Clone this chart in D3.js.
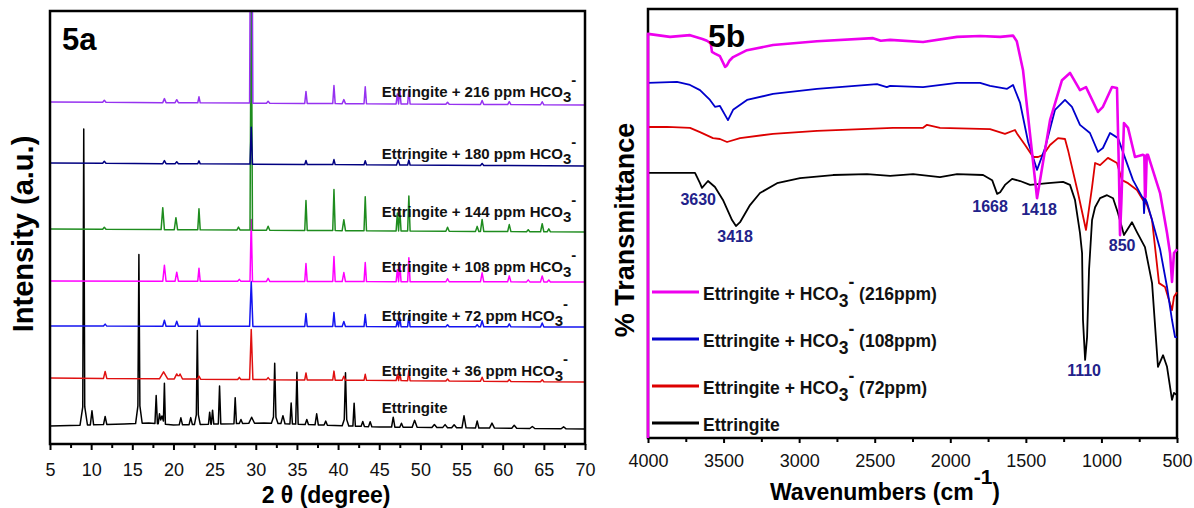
<!DOCTYPE html>
<html>
<head>
<meta charset="utf-8">
<script src="https://cdn.jsdelivr.net/npm/d3@7"></script>
<style>
  body { margin: 0; background: #fff; }
  svg { display: block; font-family: "Liberation Sans", Arial, Helvetica, sans-serif; }
</style>
</head>
<body>
<svg id="fig" width="1194" height="508"></svg>
<script>
// ================= 5a : XRD =================
// peaks: [2theta, height (a.u.), half width (deg)]
const xrdNames = ["Ettringite", "36 ppm", "72 ppm", "108 ppm", "144 ppm", "180 ppm", "216 ppm"];
const xrdColors = ["#000000", "#e01010", "#1414f0", "#ff00ff", "#1e8c1e", "#000080", "#9632f0"];

const baseEtt = [[5, 18], [14, 20], [17, 21], [20, 19], [31, 21], [45, 17], [70, 15]];
const base36 = [[5, 66], [70, 62]];
const base72 = [[5, 118], [70, 117]];
const base108 = [[5, 163], [70, 162]];
const base144 = [[5, 215], [70, 212]];
const base180 = [[5, 281], [70, 278]];
const base216 = [[5, 342], [70, 339]];

const peaksEtt = [
  [9.1, 271, 0.12], [9.1, 25, 0.45], [10.1, 14, 0.2], [11.7, 8, 0.2],
  [15.8, 144, 0.12], [15.8, 25, 0.4], [17.9, 28, 0.15], [18.3, 10, 0.15],
  [18.6, 8, 0.3], [18.9, 41, 0.12], [20.9, 7, 0.2], [22.1, 7, 0.2],
  [22.9, 79, 0.12], [22.9, 15, 0.35], [24.4, 12, 0.15], [24.75, 14, 0.15],
  [25.6, 38, 0.15], [27.5, 26, 0.15], [28.2, 4, 0.2], [29.5, 6, 0.35],
  [32.3, 50, 0.15], [32.3, 10, 0.4], [33.3, 8, 0.25], [34.3, 21, 0.15],
  [35.0, 52, 0.15], [36.2, 5, 0.2], [37.4, 11, 0.2], [38.5, 4, 0.2],
  [40.9, 43, 0.15], [40.9, 10, 0.4], [41.95, 23, 0.15], [43.0, 5, 0.2],
  [43.9, 5, 0.2], [46.7, 10, 0.2], [47.7, 4, 0.2], [49.3, 7, 0.3],
  [51.7, 3, 0.3], [53.0, 3, 0.3], [54.1, 3, 0.3], [55.3, 12, 0.25],
  [56.9, 7, 0.2], [58.7, 5, 0.3], [61.4, 3, 0.3], [63.6, 2, 0.3], [67.4, 2, 0.3]
];
const peaks36 = [
  [11.7, 7, 0.2], [18.8, 7, 0.5], [20.4, 5, 0.3], [20.8, 5, 0.3], [23.1, 3, 0.2],
  [28.0, 2, 0.2], [29.45, 50, 0.2], [31.5, 2, 0.2], [36.1, 7, 0.15], [39.5, 9, 0.15],
  [40.7, 4, 0.2], [43.3, 6, 0.15], [47.2, 6, 0.15], [47.5, 8, 0.15], [48.6, 10, 0.15],
  [53.3, 2, 0.2], [57.5, 4, 0.2], [60.8, 2, 0.2], [64.8, 2, 0.2]
];
const peaks72 = [
  [11.7, 2, 0.2], [18.9, 6, 0.2], [20.4, 5, 0.2], [23.1, 8, 0.15], [29.45, 45, 0.2],
  [36.1, 13, 0.15], [39.5, 14, 0.15], [40.7, 5, 0.2], [43.3, 12, 0.15], [47.2, 6, 0.15],
  [47.5, 9, 0.15], [48.6, 11, 0.15], [53.3, 2, 0.2], [56.9, 2, 0.2], [57.5, 6, 0.2],
  [60.8, 3, 0.2], [64.8, 4, 0.2]
];
const peaks108 = [
  [18.9, 16, 0.2], [20.4, 9, 0.2], [23.1, 13, 0.15], [28.0, 2, 0.2], [29.45, 62, 0.15],
  [31.5, 3, 0.2], [36.1, 18, 0.15], [39.5, 25, 0.15], [40.7, 9, 0.2], [43.3, 19, 0.15],
  [47.2, 12, 0.15], [47.5, 18, 0.15], [48.6, 24, 0.15], [53.3, 3, 0.2], [57.5, 9, 0.2],
  [60.8, 6, 0.2], [63.1, 2, 0.2], [64.8, 6, 0.2], [65.6, 2, 0.2]
];
const peaks144 = [
  [11.6, 2, 0.2], [18.7, 22, 0.2], [20.3, 12, 0.2], [23.1, 21, 0.15], [27.9, 3, 0.2],
  [29.45, 260, 0.15], [31.5, 4, 0.2], [36.1, 30, 0.15], [39.5, 41, 0.15], [40.7, 11, 0.2],
  [43.3, 34, 0.15], [47.2, 18, 0.15], [47.5, 22, 0.15], [48.6, 35, 0.15], [53.3, 4, 0.2],
  [56.9, 5, 0.2], [57.5, 12, 0.2], [60.8, 7, 0.2], [63.1, 2, 0.2], [64.8, 8, 0.2], [65.6, 3, 0.2]
];
const peaks180 = [
  [11.6, 2, 0.2], [18.9, 3, 0.2], [20.4, 2, 0.2], [23.1, 3, 0.15], [29.45, 37, 0.15],
  [36.1, 4, 0.15], [39.5, 5, 0.15], [43.3, 4, 0.15], [47.3, 5, 0.2], [48.6, 5, 0.15], [57.5, 2, 0.2]
];
const peaks216 = [
  [11.6, 2, 0.2], [18.9, 4, 0.2], [20.4, 3, 0.2], [23.1, 6, 0.15], [29.45, 340, 0.2],
  [31.5, 2, 0.2], [36.1, 12, 0.15], [39.5, 18, 0.15], [40.7, 4, 0.2], [43.3, 17, 0.15],
  [47.2, 10, 0.15], [47.5, 14, 0.15], [48.6, 14, 0.15], [53.3, 2, 0.2], [57.5, 4, 0.2],
  [60.8, 3, 0.2], [64.8, 3, 0.2]
];
const xrdBases = [baseEtt, base36, base72, base108, base144, base180, base216];
const xrdPeaks = [peaksEtt, peaks36, peaks72, peaks108, peaks144, peaks180, peaks216];
const xrdTicks = d3.range(5, 71, 5);

// ================= 5b : FTIR =================
// [wavenumber, transmittance (a.u., 0-100)]
const ftir216 = [
  [4000, 0], [4000, 94.2], [3854, 93.5], [3722, 93.9], [3640, 93.0], [3610, 92.6], [3585, 92.0],
  [3577, 90.0], [3557, 89.6], [3524, 89.0], [3490, 86.5], [3477, 86.9], [3460, 88.0], [3437, 88.8],
  [3345, 90.4], [3173, 91.6], [2882, 92.5], [2511, 93.2], [2460, 92.6], [2398, 92.8], [2180, 92.3],
  [1955, 93.5], [1803, 93.7], [1670, 93.5], [1585, 93.8], [1560, 92.5], [1519, 85.8], [1426, 55.9],
  [1340, 74.1], [1261, 83.4], [1208, 85.1], [1142, 81.1], [1102, 81.8], [1023, 76.0], [990, 77.2],
  [930, 81.8], [897, 81.6], [884, 62], [877, 47.3], [868, 55], [851, 73.4], [824, 72.3], [778, 65.5],
  [725, 66.0], [716, 65.8], [712, 56.2], [708, 56.2], [700, 66.0], [692, 66.0], [612, 57.1],
  [566, 47.8], [546, 43.1], [533, 36.4], [520, 43.1], [500, 44]
];
const ftir108 = [
  [4000, 82.8], [3808, 83.0], [3722, 82.3], [3656, 81.1], [3590, 78.8], [3557, 77.2], [3524, 77.4],
  [3471, 74.1], [3437, 76.5], [3345, 78.8], [3173, 80.2], [2882, 81.4], [2485, 82.5], [2420, 81.8],
  [2398, 82.1], [2180, 81.8], [1955, 82.8], [1803, 82.8], [1737, 82.1], [1624, 81.4], [1585, 82.3],
  [1538, 78.1], [1485, 69.0], [1426, 62.5], [1373, 67.6], [1307, 76.5], [1241, 78.8], [1195, 77.2],
  [1142, 73.0], [1076, 71.1], [1023, 66.7], [990, 67.6], [943, 71.1], [890, 69.9], [844, 65.3],
  [791, 60.1], [731, 56.2], [722, 56.0], [718, 52.4], [712, 56.0], [698, 54.8], [665, 50.8],
  [612, 44.0], [566, 35.2], [533, 27.5], [513, 23.5], [500, 23.5]
];
const ftir72 = [
  [4000, 72.5], [3874, 72.5], [3722, 72.3], [3656, 71.3], [3570, 69.9], [3524, 69.7], [3477, 69.0],
  [3391, 69.9], [3173, 70.9], [2882, 71.6], [2379, 72.3], [2180, 72.3], [2154, 73.0], [2068, 72.3],
  [1737, 72.0], [1638, 70.9], [1572, 71.8], [1559, 71.0], [1505, 68.3], [1452, 65.5], [1419, 65.5],
  [1386, 66.0], [1340, 68.3], [1287, 69.9], [1241, 69.7], [1221, 67.1], [1155, 57.1], [1102, 48.5],
  [1062, 58.5], [1042, 64.1], [1009, 63.6], [957, 65.3], [897, 64.1], [864, 60.1], [824, 59.4],
  [765, 57.8], [725, 55.5], [698, 54.3], [665, 50.8], [619, 36.1], [579, 35.2], [533, 29.8],
  [520, 32.9], [500, 34]
];
const ftirEtt = [
  [4000, 61.8], [3689, 61.8], [3656, 59.4], [3643, 58.3], [3603, 59.9], [3557, 58.5], [3504, 55.5],
  [3444, 50.8], [3418, 49.4], [3391, 50.3], [3325, 54.3], [3259, 57.1], [3146, 59.4], [2994, 60.6],
  [2776, 61.3], [2551, 61.5], [2398, 61.1], [2246, 61.5], [2068, 60.8], [1955, 61.5], [1783, 61.3],
  [1723, 60.1], [1690, 56.9], [1670, 57.3], [1638, 59.0], [1591, 60.4], [1538, 59.9], [1472, 59.0],
  [1353, 59.4], [1254, 59.7], [1208, 59.0], [1175, 55.5], [1142, 47.8], [1128, 43.1], [1122, 27.5],
  [1108, 18.2], [1095, 23.5], [1082, 39.2], [1062, 50.8], [1042, 53.8], [1009, 55.9], [963, 56.6],
  [923, 55.9], [890, 52.4], [851, 47.3], [798, 50.3], [765, 48.0], [712, 44.5], [665, 36.1],
  [626, 16.6], [592, 19.3], [566, 16.6], [533, 8.9], [520, 10.5], [500, 10.0]
];
const ftirSeries = [ftirEtt, ftir72, ftir108, ftir216];
const ftirColors = ["#000000", "#dd0000", "#0000cc", "#ee00ee"];
const ftirWidths = [1.8, 1.8, 1.8, 2.6];
const ftirLegend = ["Ettringite", "72ppm", "108ppm", "216ppm"];
const ftirMarks = ["3630", "3418", "1668", "1418", "1110", "850"];
const ftirTicks = d3.range(4000, 499, -500);

// ---------- drawing ----------
const svg = d3.select("#fig");

// XRD profile = baseline + triangular peaks, evaluated at the peak vertices
function profile(base, peaks) {
  const baseAt = d3.scaleLinear().domain(base.map(d => d[0])).range(base.map(d => d[1]));
  const xs = new Set(base.map(d => d[0]));
  peaks.forEach(([p, h, w]) => { xs.add(p - w); xs.add(p); xs.add(p + w); });
  return Array.from(xs).filter(x => x >= 5 && x <= 70).sort((a, b) => a - b)
    .map(x => [x, baseAt(x) + d3.sum(peaks, ([p, h, w]) => Math.max(0, h * (1 - Math.abs(x - p) / w)))]);
}

function axisStyle(g) {
  g.select(".domain").remove();
  g.selectAll(".tick line").attr("stroke", "#000").attr("stroke-width", 2);
  g.selectAll(".tick text").attr("font-size", 18).attr("fill", "#111")
    .style("font-family", '"Liberation Sans", Arial, sans-serif');
}

// ---- panel a ----
const xA = d3.scaleLinear().domain([5, 70]).range([50, 585]);
const yA = d3.scaleLinear().domain([0, 433]).range([444, 11]);

svg.append("clipPath").attr("id", "clipA")
  .append("rect").attr("x", 50).attr("y", 11).attr("width", 535).attr("height", 433);

const lineA = d3.line().x(d => xA(d[0])).y(d => yA(d[1]));
const gA = svg.append("g").attr("clip-path", "url(#clipA)");
xrdPeaks.forEach((pk, i) => {
  gA.append("path")
    .attr("d", lineA(profile(xrdBases[i], pk)))
    .attr("fill", "none")
    .attr("stroke", xrdColors[i])
    .attr("stroke-width", 1.5)
    .attr("stroke-linejoin", "round");
});

// minor + major ticks
svg.append("g").attr("transform", "translate(0,444)")
  .call(d3.axisBottom(xA).tickValues(d3.range(7.5, 70, 5)).tickSize(4).tickFormat(""))
  .call(axisStyle);
svg.append("g").attr("transform", "translate(0,444)")
  .call(d3.axisBottom(xA).tickValues(xrdTicks).tickSize(6).tickPadding(13).tickFormat(d3.format("d")))
  .call(axisStyle);

svg.append("rect").attr("x", 50).attr("y", 11).attr("width", 535).attr("height", 433)
  .attr("fill", "none").attr("stroke", "#000").attr("stroke-width", 2.5);

// sample labels (ppm HCO3-)
const xrdLabelLift = [14, 4, 6, 10, 14, 6, 7];
xrdNames.forEach((name, i) => {
  const base = d3.scaleLinear().domain(xrdBases[i].map(d => d[0])).range(xrdBases[i].map(d => d[1]));
  const t = svg.append("text")
    .attr("x", xA(45.3))
    .attr("y", yA(base(45.3) + xrdLabelLift[i]))
    .attr("font-size", 15).attr("font-weight", "bold").attr("fill", "#111");
  if (i === 0) { t.text(name); return; }
  t.append("tspan").text("Ettringite + " + name + " HCO");
  t.append("tspan").attr("dy", 5).text("3");
  t.append("tspan").attr("dy", -17).text("-");
});

svg.append("text").attr("x", 62).attr("y", 50)
  .attr("font-size", 31).attr("font-weight", "bold").text("5a");

svg.append("text").attr("x", 326).attr("y", 503).attr("text-anchor", "middle")
  .attr("font-size", 23).attr("font-weight", "bold").text("2 \u03b8 (degree)");

svg.append("text").attr("transform", "translate(33,234) rotate(-90)")
  .attr("text-anchor", "middle").attr("font-size", 29).attr("font-weight", "bold")
  .text("Intensity (a.u.)");

// ---- panel b ----
const xB = d3.scaleLinear().domain([4000, 500]).range([648, 1177]);
const yB = d3.scaleLinear().domain([0, 100]).range([438, 9]);

svg.append("rect").attr("x", 648).attr("y", 9).attr("width", 529).attr("height", 429)
  .attr("fill", "none").attr("stroke", "#000").attr("stroke-width", 2.5);

svg.append("g").attr("transform", "translate(0,438)")
  .call(d3.axisBottom(xB).tickValues(d3.range(3750, 600, -500)).tickSize(4).tickFormat(""))
  .call(axisStyle);
svg.append("g").attr("transform", "translate(0,438)")
  .call(d3.axisBottom(xB).tickValues(ftirTicks).tickSize(5).tickPadding(11).tickFormat(d3.format("d")))
  .call(axisStyle);

const lineB = d3.line().x(d => xB(d[0])).y(d => yB(d[1]));
ftirSeries.forEach((s, i) => {
  svg.append("path")
    .attr("d", lineB(s))
    .attr("fill", "none")
    .attr("stroke", ftirColors[i])
    .attr("stroke-width", ftirWidths[i])
    .attr("stroke-linejoin", "round");
});

// peak labels
const markWn = [3668, 3424, 1737, 1413, 1115, 863];
const markT = [54.3, 45.7, 52.7, 52.0, 14.5, 43.6];
ftirMarks.forEach((m, i) => {
  svg.append("text").attr("x", xB(markWn[i])).attr("y", yB(markT[i]))
    .attr("text-anchor", "middle").attr("font-size", 16).attr("font-weight", "bold")
    .attr("fill", "#22228a").text(m);
});

// legend, top to bottom: 216, 108, 72, Ettringite
const legendY = [300, 347, 394, 431];
[3, 2, 1, 0].forEach((k, j) => {
  const y = legendY[j];
  svg.append("line").attr("x1", 652).attr("x2", 699)
    .attr("y1", y - 8).attr("y2", y - 8)
    .attr("stroke", ftirColors[k]).attr("stroke-width", 3);
  const t = svg.append("text").attr("x", 703).attr("y", y)
    .attr("font-size", 17.5).attr("font-weight", "bold").attr("fill", "#111");
  if (k === 0) { t.text(ftirLegend[k]); return; }
  t.append("tspan").text("Ettringite + HCO");
  t.append("tspan").attr("dy", 7).text("3");
  t.append("tspan").attr("dy", -19).text("-");
  t.append("tspan").attr("dy", 12).text(" (" + ftirLegend[k] + ")");
});

svg.append("text").attr("x", 708).attr("y", 47)
  .attr("font-size", 32).attr("font-weight", "bold").text("5b");

const xt = svg.append("text").attr("x", 885).attr("y", 500).attr("text-anchor", "middle")
  .attr("font-size", 23).attr("font-weight", "bold");
xt.append("tspan").text("Wavenumbers (cm");
xt.append("tspan").attr("dy", -16).attr("font-size", 21).text("-1");
xt.append("tspan").attr("dy", 16).text(")");

svg.append("text").attr("transform", "translate(634,230) rotate(-90)")
  .attr("text-anchor", "middle").attr("font-size", 27).attr("font-weight", "bold")
  .text("% Transmittance");
</script>
</body>
</html>
